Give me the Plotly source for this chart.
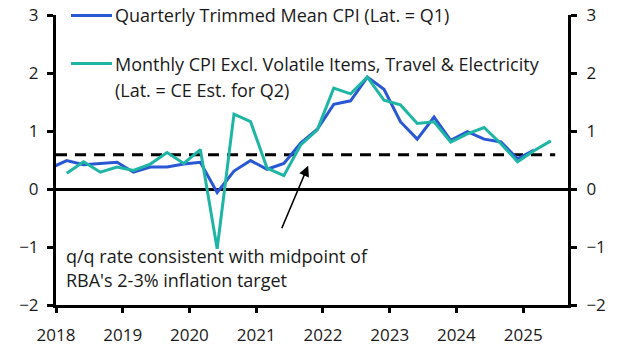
import plotly.graph_objects as go
import pandas as pd

# ---- data ----
trimmed_dates = pd.date_range("2017-12-01", periods=30, freq="3MS")
trimmed_mean = [0.36,
                0.49, 0.42, 0.44, 0.46,
                0.29, 0.38, 0.38, 0.43,
                0.46, -0.06, 0.31, 0.49,
                0.34, 0.44, 0.79, 1.03,
                1.46, 1.52, 1.93, 1.72,
                1.16, 0.86, 1.24, 0.84,
                0.99, 0.86, 0.81, 0.52,
                0.67]
monthly_dates = pd.date_range("2018-03-01", periods=30, freq="3MS")
monthly_excl = [0.27, 0.47, 0.29, 0.38,
                0.32, 0.43, 0.63, 0.44,
                0.68, -1.03, 1.29, 1.16,
                0.36, 0.23, 0.76, 1.02,
                1.74, 1.64, 1.93, 1.53,
                1.45, 1.13, 1.16, 0.81,
                0.95, 1.06, 0.78, 0.47,
                0.66, 0.83]
target_dates = ["2018-01-01", "2025-06-25"]
target_rate = [0.59, 0.59]

legend_labels = ["Quarterly Trimmed Mean CPI (Lat. = Q1)",
                 "Monthly CPI Excl. Volatile Items, Travel & Electricity",
                 "(Lat. = CE Est. for Q2)"]
note_lines = ["q/q rate consistent with midpoint of",
              "RBA's 2-3% inflation target"]
year_ticks = ["2018-01-01", "2019-01-01", "2020-01-01", "2021-01-01",
              "2022-01-01", "2023-01-01", "2024-01-01", "2025-01-01"]
year_labels = ["2018", "2019", "2020", "2021", "2022", "2023", "2024", "2025"]
y_ticks = [-2, -1, 0, 1, 2, 3]

BLUE = "#2a58d4"
TEAL = "#1fb5a5"
FONT = "Open Sans"
TXT = "#1a1a1a"

W, H = 627, 352
L, R, T, B = 56, 59, 15, 47
PW, PH = W - L - R, H - T - B

def px(x):
    return (x - L) / PW

def py(y):
    return 1 - (y - T) / PH

fig = go.Figure()
fig.add_trace(go.Scatter(x=target_dates, y=target_rate, mode="lines",
                         line=dict(color="black", width=3, dash="11px,8px"),
                         showlegend=False, hoverinfo="skip"))
fig.add_trace(go.Scatter(x=trimmed_dates, y=trimmed_mean, mode="lines",
                         line=dict(color=BLUE, width=3), showlegend=False))
fig.add_trace(go.Scatter(x=monthly_dates, y=monthly_excl, mode="lines",
                         line=dict(color=TEAL, width=3), showlegend=False))
# invisible trace to carry the right axis
fig.add_trace(go.Scatter(x=monthly_dates[:1], y=monthly_excl[:1], yaxis="y2",
                         mode="lines", line=dict(width=0), showlegend=False,
                         hoverinfo="skip"))

# manual legend
for i, (ly, col) in enumerate([(15.5, BLUE), (63.5, TEAL)]):
    fig.add_shape(type="line", xref="paper", yref="paper",
                  x0=px(71), x1=px(112), y0=py(ly), y1=py(ly),
                  line=dict(color=col, width=3))
for lab, ly in zip(legend_labels, [15.5, 63.5, 90]):
    fig.add_annotation(text=lab, xref="paper", yref="paper", x=px(113), y=py(ly),
                       xanchor="left", yanchor="middle", showarrow=False,
                       font=dict(family=FONT, size=18, color=TXT))
for lab, ly in zip(note_lines, [256, 280]):
    fig.add_annotation(text=lab, xref="paper", yref="paper", x=px(64), y=py(ly),
                       xanchor="left", yanchor="middle", showarrow=False,
                       font=dict(family=FONT, size=18, color=TXT))

# arrow
fig.add_annotation(x="2021-10-12", y=0.40, xref="x", yref="y", text="",
                   showarrow=True, ax=-27, ay=64, arrowhead=2, arrowsize=1.3,
                   arrowwidth=1.6, arrowcolor="black", standoff=0)

axis_common = dict(range=[-2, 3], tickvals=y_ticks, showgrid=False,
                   showline=True, linecolor="black", linewidth=3,
                   ticks="outside", ticklen=6, tickwidth=2.5, tickcolor="black",
                   tickfont=dict(family=FONT, size=17, color=TXT),
                   fixedrange=True, automargin=False)

fig.update_layout(
    width=W, height=H,
    margin=dict(l=L, r=R, t=T, b=B, pad=0, autoexpand=False),
    paper_bgcolor="white", plot_bgcolor="white",
    showlegend=False,
    xaxis=dict(type="date", range=["2018-01-01", "2025-09-03"],
               tickvals=year_ticks, ticktext=year_labels,
               showgrid=False, showline=True, linecolor="black", linewidth=3,
               ticks="outside", ticklen=5, tickwidth=2.5, tickcolor="black",
               tickfont=dict(family=FONT, size=17, color=TXT),
               zeroline=False, automargin=False, ticklabelstandoff=8),
    yaxis=dict(**axis_common, zeroline=True, zerolinecolor="black",
               zerolinewidth=3, side="left", ticklabelstandoff=5),
    yaxis2=dict(**axis_common, overlaying="y", side="right", zeroline=False,
                ticklabelstandoff=6),
)

fig.write_html("out.html")
